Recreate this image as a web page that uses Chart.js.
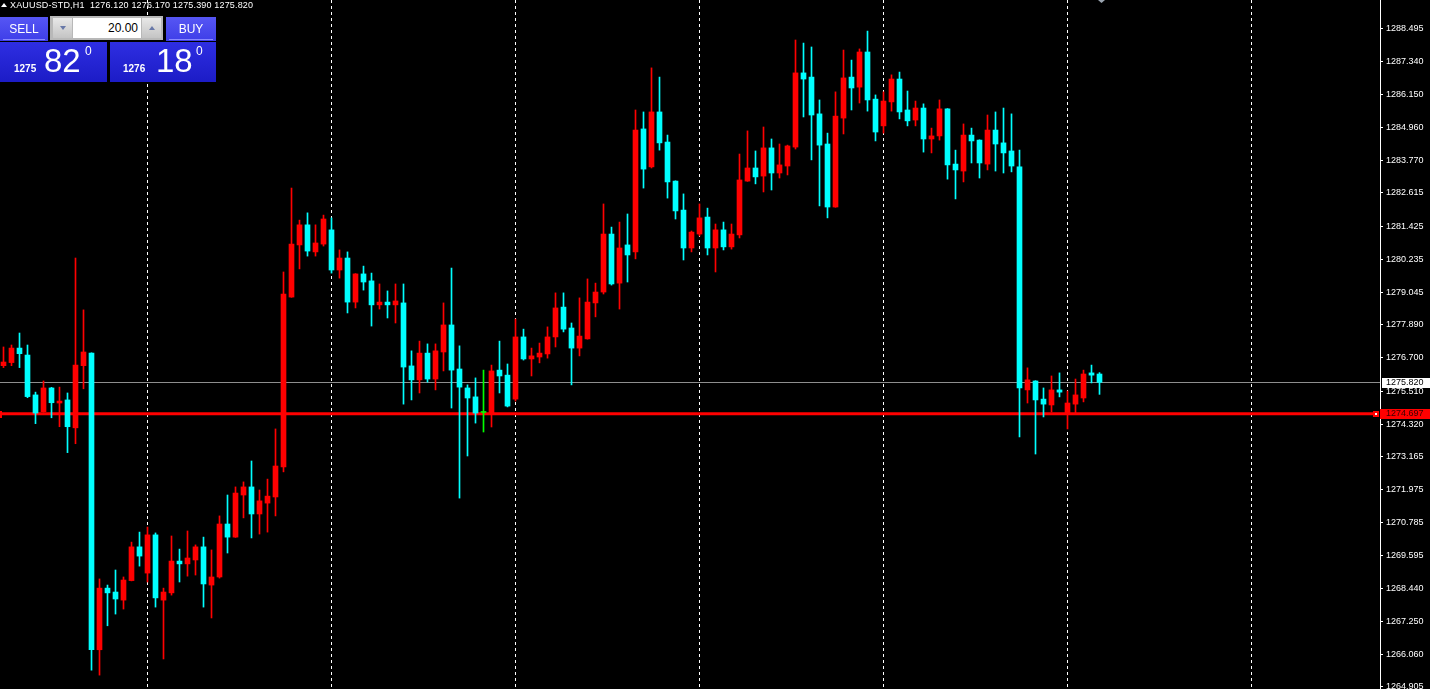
<!DOCTYPE html>
<html>
<head>
<meta charset="utf-8">
<script src="https://cdn.jsdelivr.net/npm/chart.js@4.4.0/dist/chart.umd.min.js"></script>
<style>
html, body { margin: 0; padding: 0; background: #000; overflow: hidden; }
#wrap { position: relative; width: 1430px; height: 689px; }
#chart { position: absolute; left: 0; top: 0; }
.t { position: absolute; font-family: 'Liberation Sans', Arial, sans-serif; color: #fff; white-space: nowrap; }
#hdr { left: 10px; top: 0; font-size: 9px; line-height: 10px; letter-spacing: 0.16px; }
#tri { position: absolute; left: 1px; top: 3px; width: 0; height: 0; border-left: 3px solid transparent; border-right: 3px solid transparent; border-bottom: 4px solid #fff; }
.btn { position: absolute; top: 17px; height: 24px; background: linear-gradient(#5656f4, #3e3ee8); }
.btn .u { position: absolute; left: 3px; right: 3px; bottom: 1px; height: 1px; background: #8a8aff; }
.btn .t { left: 0; right: 0; top: 5px; text-align: center; font-size: 12px; line-height: 14px; }
#lot { position: absolute; left: 50px; top: 16px; width: 113px; height: 24px; background: #b8b8b8; }
.arr { position: absolute; top: 2px; width: 19px; height: 20px; background: linear-gradient(#e8e8e8, #c4c4c4); }
.arr i { position: absolute; left: 7px; width: 0; height: 0; border-left: 3px solid transparent; border-right: 3px solid transparent; }
#field { position: absolute; left: 23px; top: 2px; width: 68px; height: 20px; background: #fff; }
#field .t { right: 3px; top: 3px; color: #000; font-size: 12px; line-height: 14px; }
.px { position: absolute; top: 42px; width: 107px; height: 40px; background: linear-gradient(#2e2ee2, #1c1cc6); }
.px .s { font-size: 10px; font-weight: bold; line-height: 10px; top: 22px; }
.px .b { font-size: 33px; line-height: 33px; top: 2px; }
.px .d { font-size: 12px; line-height: 12px; top: 3px; }
</style>
</head>
<body>
<div id="wrap">
  <canvas id="chart" width="1430" height="689"></canvas>
  <div id="tri"></div>
  <div id="hdr" class="t">XAUUSD-STD,H1&nbsp; 1276.120 1276.170 1275.390 1275.820</div>
  <div class="btn" style="left:0;width:48px"><div class="t">SELL</div><div class="u"></div></div>
  <div id="lot">
    <div class="arr" style="left:3px"><i style="top:8px;border-top:4px solid #6878a8"></i></div>
    <div id="field"><div class="t">20.00</div></div>
    <div class="arr" style="left:92px"><i style="top:8px;border-bottom:4px solid #6878a8"></i></div>
  </div>
  <div class="btn" style="left:166px;width:50px"><div class="t">BUY</div><div class="u"></div></div>
  <div class="px" style="left:0">
    <span class="t s" style="left:14px">1275</span>
    <span class="t b" style="left:44px">82</span>
    <span class="t d" style="left:85px">0</span>
  </div>
  <div class="px" style="left:110px;width:106px">
    <span class="t s" style="left:13px">1276</span>
    <span class="t b" style="left:46px">18</span>
    <span class="t d" style="left:86px">0</span>
  </div>
</div>
<script>
// XAUUSD H1 bars (oldest first)
const opens = [
  1276.42, 1276.53, 1277.05, 1276.80, 1275.37, 1274.77, 1275.62, 1275.08, 1275.19, 1274.19,
  1276.42, 1276.87, 1266.23, 1268.44, 1268.30, 1268.01, 1268.71, 1269.92, 1268.98, 1270.35,
  1268.01, 1268.27, 1269.41, 1269.31, 1269.45, 1269.92, 1268.55, 1268.84, 1270.74, 1270.27,
  1271.78, 1272.07, 1271.10, 1271.49, 1271.71, 1272.79, 1278.88, 1280.75, 1281.47, 1280.50,
  1280.78, 1281.29, 1279.85, 1280.28, 1278.70, 1279.71, 1279.46, 1278.60, 1278.70, 1278.60,
  1278.67, 1276.41, 1275.91, 1276.87, 1275.94, 1276.91, 1277.88, 1276.30, 1275.62, 1275.30,
  1274.74, 1274.69, 1276.26, 1276.08, 1275.22, 1277.45, 1276.66, 1276.73, 1276.84, 1277.45,
  1278.52, 1277.77, 1277.05, 1277.38, 1278.67, 1279.06, 1281.14, 1279.38, 1280.75, 1280.50,
  1284.91, 1283.55, 1285.52, 1284.44, 1283.04, 1282.00, 1280.64, 1281.14, 1281.75, 1280.64,
  1281.29, 1280.68, 1281.11, 1283.04, 1283.51, 1283.22, 1284.23, 1283.33, 1283.58, 1284.26,
  1286.92, 1286.77, 1285.45, 1284.37, 1282.11, 1285.30, 1286.77, 1286.41, 1287.67, 1285.98,
  1285.02, 1285.88, 1286.70, 1285.59, 1285.23, 1285.66, 1284.55, 1284.66, 1285.63, 1283.65,
  1283.40, 1284.69, 1284.51, 1283.65, 1284.87, 1284.41, 1284.12, 1283.55, 1275.55, 1275.87,
  1275.22, 1275.01, 1275.55, 1274.69, 1275.04, 1275.26, 1276.16, 1276.12
];
const highs = [
  1277.09, 1277.16, 1277.59, 1277.16, 1275.47, 1275.87, 1275.64, 1275.65, 1275.44, 1280.28,
  1278.42, 1276.88, 1268.77, 1268.55, 1269.09, 1268.84, 1270.09, 1270.45, 1270.63, 1270.42,
  1268.44, 1270.31, 1269.84, 1270.49, 1269.99, 1270.27, 1269.81, 1271.03, 1271.78, 1272.07,
  1272.25, 1273.00, 1271.96, 1272.35, 1274.15, 1279.78, 1282.79, 1281.64, 1281.90, 1281.47,
  1281.82, 1281.72, 1280.57, 1280.50, 1279.72, 1279.99, 1279.74, 1279.35, 1279.10, 1279.35,
  1279.35, 1276.95, 1277.30, 1277.20, 1277.20, 1278.67, 1279.92, 1277.13, 1275.73, 1275.98,
  1276.26, 1276.44, 1277.30, 1276.48, 1278.09, 1277.73, 1277.05, 1277.23, 1277.81, 1279.03,
  1279.03, 1277.95, 1278.85, 1279.53, 1279.38, 1282.22, 1281.39, 1281.57, 1281.86, 1285.59,
  1285.52, 1287.10, 1286.77, 1284.69, 1283.05, 1282.58, 1281.25, 1282.22, 1282.07, 1281.50,
  1281.57, 1281.50, 1284.01, 1284.84, 1284.12, 1284.98, 1284.55, 1284.37, 1284.33, 1288.10,
  1287.99, 1287.85, 1285.95, 1284.76, 1286.24, 1287.74, 1287.38, 1287.78, 1288.42, 1286.13,
  1286.24, 1286.85, 1286.95, 1286.27, 1285.91, 1285.81, 1284.94, 1285.95, 1285.64, 1284.15,
  1285.09, 1284.94, 1284.52, 1285.41, 1285.52, 1285.66, 1285.45, 1284.15, 1276.34, 1275.88,
  1275.62, 1276.05, 1276.16, 1275.51, 1275.94, 1276.26, 1276.44, 1276.17
];
const lows = [
  1276.35, 1276.42, 1276.35, 1275.27, 1274.34, 1274.75, 1274.55, 1274.23, 1273.30, 1273.62,
  1275.59, 1265.50, 1265.32, 1267.09, 1267.51, 1267.69, 1268.70, 1269.23, 1268.66, 1267.76,
  1265.90, 1268.19, 1268.66, 1268.87, 1268.91, 1267.76, 1267.37, 1268.80, 1269.70, 1270.26,
  1270.96, 1270.24, 1270.38, 1270.45, 1271.03, 1272.61, 1278.87, 1279.89, 1280.35, 1280.35,
  1280.71, 1279.74, 1279.56, 1278.31, 1278.49, 1279.13, 1277.84, 1278.45, 1278.13, 1277.95,
  1275.04, 1275.19, 1275.44, 1275.83, 1275.55, 1276.23, 1274.90, 1271.67, 1273.18, 1274.36,
  1274.04, 1274.22, 1275.44, 1274.94, 1275.15, 1276.62, 1276.05, 1276.52, 1276.69, 1277.09,
  1277.63, 1275.73, 1276.77, 1277.37, 1278.17, 1278.99, 1279.31, 1278.45, 1279.42, 1280.25,
  1282.79, 1283.51, 1284.15, 1282.43, 1281.68, 1280.21, 1280.50, 1281.07, 1280.39, 1279.78,
  1280.57, 1280.60, 1281.00, 1283.03, 1282.94, 1282.65, 1282.72, 1283.15, 1283.26, 1284.19,
  1285.34, 1283.80, 1282.15, 1281.72, 1282.10, 1284.73, 1285.59, 1285.84, 1285.55, 1284.48,
  1284.76, 1285.55, 1285.27, 1285.02, 1285.02, 1284.08, 1284.05, 1284.51, 1283.11, 1282.40,
  1283.01, 1283.69, 1283.15, 1283.44, 1283.40, 1283.33, 1283.37, 1273.86, 1275.08, 1273.25,
  1274.58, 1274.76, 1275.30, 1274.15, 1274.72, 1275.12, 1275.80, 1275.39
];
const closes = [
  1276.55, 1277.05, 1276.85, 1275.31, 1274.72, 1275.62, 1275.09, 1275.15, 1274.23, 1276.44,
  1276.91, 1266.23, 1268.44, 1268.27, 1268.05, 1268.73, 1269.92, 1269.59, 1270.35, 1268.09,
  1268.30, 1269.41, 1269.31, 1269.52, 1269.92, 1268.59, 1268.84, 1270.74, 1270.27, 1271.85,
  1272.07, 1271.10, 1271.57, 1271.74, 1272.82, 1278.99, 1280.78, 1281.47, 1280.53, 1280.82,
  1281.68, 1279.85, 1280.28, 1278.70, 1279.71, 1279.42, 1278.60, 1278.70, 1278.60, 1278.74,
  1276.37, 1275.91, 1276.87, 1275.94, 1276.95, 1277.88, 1276.26, 1275.65, 1275.26, 1274.72,
  1274.74, 1276.23, 1276.05, 1274.97, 1277.45, 1276.66, 1276.77, 1276.87, 1277.45, 1278.49,
  1277.73, 1277.05, 1277.48, 1278.70, 1279.06, 1281.14, 1279.35, 1280.64, 1280.39, 1284.87,
  1283.47, 1285.52, 1284.41, 1283.01, 1281.97, 1280.64, 1281.21, 1281.72, 1280.64, 1281.29,
  1280.68, 1281.14, 1283.08, 1283.51, 1283.19, 1284.23, 1283.33, 1283.62, 1284.30, 1286.92,
  1286.70, 1285.41, 1284.33, 1282.11, 1285.37, 1286.74, 1286.38, 1287.67, 1285.95, 1284.80,
  1285.91, 1286.70, 1285.52, 1285.20, 1285.66, 1284.55, 1284.66, 1285.63, 1283.62, 1283.44,
  1284.69, 1284.48, 1283.69, 1284.87, 1284.37, 1284.05, 1283.58, 1275.62, 1275.91, 1275.19,
  1275.04, 1275.55, 1275.47, 1275.08, 1275.37, 1276.12, 1276.08, 1275.82
];

// price scale labels as printed on the right axis
const yTicks = [
  1288.495, 1287.340, 1286.150, 1284.960, 1283.770, 1282.615, 1281.425, 1280.235, 1279.045, 1277.890, 1276.700,
  1275.510, 1274.320, 1273.165, 1271.975, 1270.785, 1269.595, 1268.440, 1267.250, 1266.060, 1264.905
];
// bars where the dashed grid lines sit
const gridBars = [18, 41, 64, 87, 110, 133, 156];
const bidPrice = 1275.820;   // grey line
const levelPrice = 1274.697; // red horizontal line

const UP = '#ff0000', DOWN = '#00ffff', DOJI = '#00ff00';

function barColor(i) {
  if (closes[i] > opens[i]) return UP;
  if (closes[i] < opens[i]) return DOWN;
  return DOJI;
}

// on garde les lignes sous les bougies (chart au premier plan)
const levelLines = {
  id: 'levelLines',
  beforeDatasetsDraw(chart) {
    const { ctx, chartArea, scales: { y } } = chart;
    ctx.save();
    let py = Math.round(y.getPixelForValue(bidPrice)) + 0.5;
    ctx.strokeStyle = '#8e8e8e';
    ctx.lineWidth = 1;
    ctx.beginPath();
    ctx.moveTo(chartArea.left, py);
    ctx.lineTo(chartArea.right, py);
    ctx.stroke();

    py = y.getPixelForValue(levelPrice);
    ctx.strokeStyle = '#ff0000';
    ctx.lineWidth = 3;
    ctx.beginPath();
    ctx.moveTo(chartArea.left, py);
    ctx.lineTo(chartArea.right - 6, py);
    ctx.stroke();
    ctx.restore();
  },
  afterDraw(chart) {
    const { ctx, chartArea, scales: { y } } = chart;
    ctx.save();
    ctx.font = '9px "Liberation Sans"';
    ctx.textBaseline = 'middle';
    ctx.textAlign = 'left';

    // bid label
    let py = Math.round(y.getPixelForValue(bidPrice));
    ctx.fillStyle = '#ffffff';
    ctx.fillRect(chartArea.right + 2, py - 4, 48, 10);
    ctx.fillStyle = '#000000';
    ctx.fillText(bidPrice.toFixed(3), chartArea.right + 6, py + 1);

    // red level label + markers
    py = Math.round(y.getPixelForValue(levelPrice));
    ctx.fillStyle = '#ff0000';
    ctx.fillRect(chartArea.right, py - 5, 50, 10);
    ctx.fillRect(chartArea.right - 7, py - 3, 6, 6);
    ctx.fillRect(chartArea.left, py - 3, 2, 7);
    ctx.fillStyle = '#ffffff';
    ctx.fillRect(chartArea.right - 5, py - 1, 2, 2);
    ctx.fillStyle = '#3a0000';
    ctx.fillText(levelPrice.toFixed(3), chartArea.right + 6, py);

    // petit triangle du decalage en haut
    ctx.fillStyle = '#9aa4b0';
    ctx.beginPath();
    ctx.moveTo(1098, 0);
    ctx.lineTo(1105, 0);
    ctx.lineTo(1101.5, 3);
    ctx.closePath();
    ctx.fill();
    ctx.restore();
  }
};

const wickData = highs.map((h, i) => ({ x: i, y: [lows[i], h] }));
const bodyData = opens.map((o, i) => ({ x: i, y: [o, closes[i]] }));

// pas de marge autour de la zone du graphique
function noPad(s) {
  s.paddingTop = 0;
  s.paddingBottom = 0;
  s.paddingLeft = 0;
  s.paddingRight = 0;
}

new Chart(document.getElementById('chart'), {
  type: 'bar',
  data: {
    datasets: [{
      label: 'body',
      data: bodyData,
      backgroundColor: ctx => barColor(ctx.dataIndex),
      barThickness: 5,
      minBarLength: 1,
      borderWidth: 0,
      order: 0
    }, {
      label: 'wick',
      data: wickData,
      backgroundColor: ctx => barColor(ctx.dataIndex),
      barThickness: 1,
      borderWidth: 0,
      order: 1
    }]
  },
  options: {
    responsive: false,
    devicePixelRatio: 1,
    animation: false,
    events: [],
    layout: { padding: 0, autoPadding: false },
    plugins: { legend: { display: false }, tooltip: { enabled: false } },
    datasets: { bar: { grouped: false } },
    scales: {
      x: {
        type: 'linear',
        min: -0.4375,
        max: 172.0625,
        offset: false,
        bounds: 'data',
        grid: { color: '#ffffff', lineWidth: 1, drawTicks: false, offset: false },
        border: { display: false, dash: [3, 3] },
        ticks: { display: false },
        afterBuildTicks: s => { s.ticks = gridBars.map(v => ({ value: v })); },
        afterFit: s => { s.height = 0; noPad(s); }
      },
      y: {
        type: 'linear',
        position: 'right',
        min: 1264.822,
        max: 1289.535,
        bounds: 'data',
        beginAtZero: false,
        grid: { drawOnChartArea: false, color: '#ffffff', tickLength: 3 },
        border: { display: true, color: '#ffffff', width: 1 },
        ticks: {
          color: '#ffffff',
          padding: 3,
          autoSkip: false,
          font: { family: 'Liberation Sans', size: 9 },
          callback: v => v.toFixed(3)
        },
        afterBuildTicks: s => { s.ticks = yTicks.map(v => ({ value: v })); },
        afterFit: s => { s.width = 50; noPad(s); }
      }
    }
  },
  plugins: [levelLines]
});
</script>
</body>
</html>
